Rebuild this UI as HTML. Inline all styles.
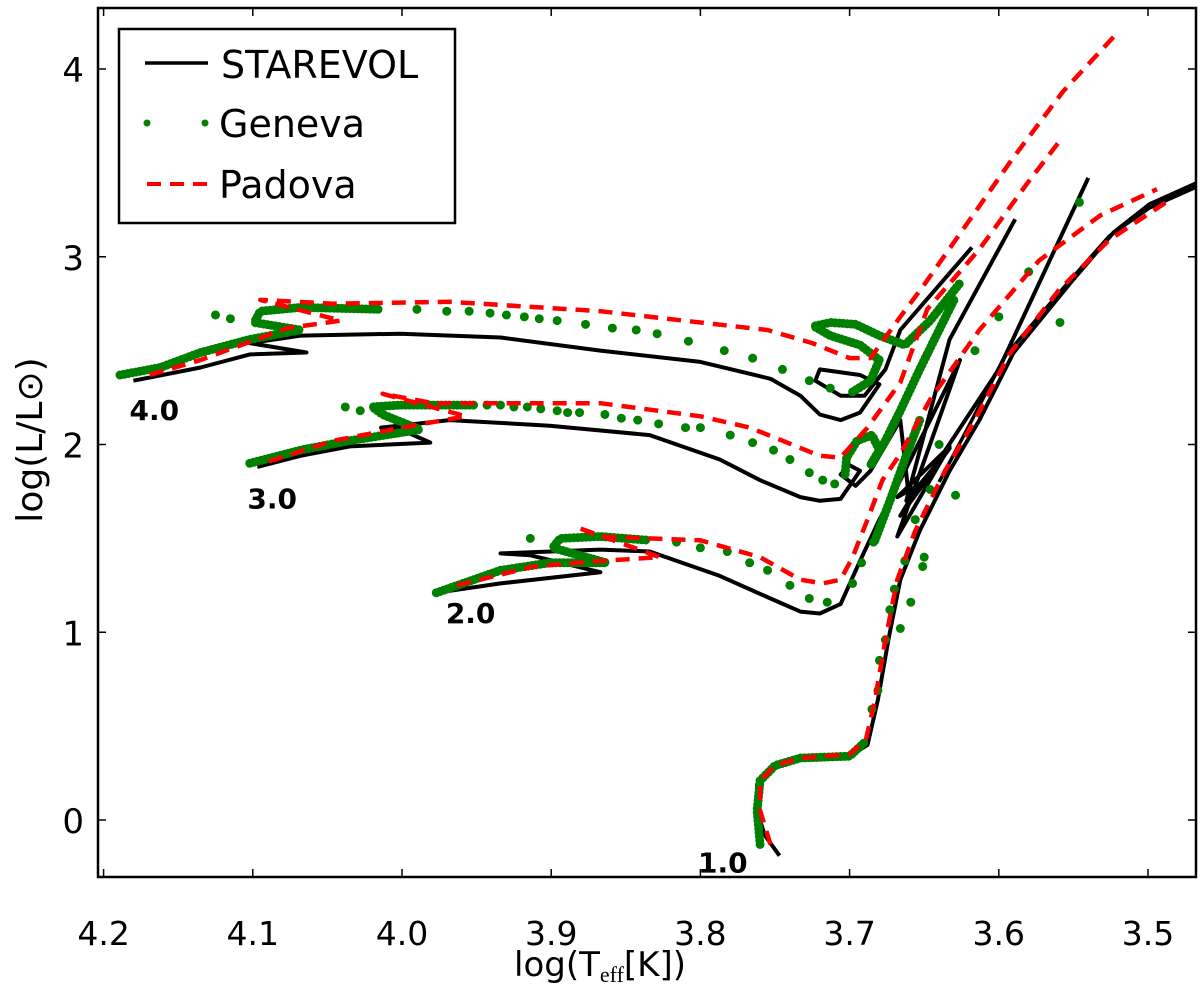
<!DOCTYPE html>
<html><head><meta charset="utf-8"><style>
html,body{margin:0;padding:0;background:#fff;}
svg{display:block;font-family:"DejaVu Sans","Liberation Sans",sans-serif;}
</style></head><body>
<svg id="chart" width="1200" height="985" viewBox="0 0 1200 985" xmlns="http://www.w3.org/2000/svg">
<rect x="0" y="0" width="1200" height="985" fill="#fff"/>
<g id="plot"></g>
<g id="axes"></g>
<text x="600" y="976" text-anchor="middle" font-size="34" fill="#000">log(T<tspan font-family="Liberation Serif" font-size="22" dy="6">eff</tspan><tspan dy="-6">[K])</tspan></text>
<text transform="translate(42,440) rotate(-90)" text-anchor="middle" font-size="36" fill="#000">log(L/L⊙)</text>
<g>
<rect x="119" y="29" width="336" height="194" fill="#fff" stroke="#000" stroke-width="2.5"/>
<line x1="145" y1="63" x2="208" y2="63" stroke="#000" stroke-width="3.5"/>
<text x="221" y="78" font-size="38">STAREVOL</text>
<circle cx="147" cy="123" r="3.5" fill="#008000"/>
<circle cx="205" cy="123" r="3.5" fill="#008000"/>
<text x="219" y="137" font-size="38">Geneva</text>
<line x1="147" y1="184" x2="208" y2="184" stroke="#f00" stroke-width="4" stroke-dasharray="14 9"/>
<text x="219" y="198" font-size="38">Padova</text>
</g>
</svg>
<script>
// axis ticks
const xTicks = [4.2, 4.1, 4.0, 3.9, 3.8, 3.7, 3.6, 3.5];
const xTickLabels = ["4.2","4.1","4.0","3.9","3.8","3.7","3.6","3.5"];
const yTicks = [0, 1, 2, 3, 4];
const yTickLabels = ["0","1","2","3","4"];
const massLabels = ["4.0","3.0","2.0","1.0"];
const massLabelT = [4.166, 4.087, 3.954, 3.785];
const massLabelL = [2.13, 1.66, 1.05, -0.28];

// STAREVOL tracks [logT, logL]
const starevolM4 = [[4.180,2.34],[4.135,2.41],[4.102,2.48],[4.064,2.49],[4.102,2.54],[4.068,2.58],[4.001,2.59],[3.934,2.57],[3.867,2.50],[3.800,2.44],[3.753,2.35],[3.733,2.26],[3.720,2.16],[3.706,2.13],[3.693,2.17],[3.680,2.32],[3.693,2.37],[3.720,2.40],[3.723,2.34],[3.706,2.26],[3.690,2.26],[3.676,2.40],[3.666,2.61],[3.618,3.05]];
const starevolM3 = [[4.097,1.88],[4.068,1.94],[4.035,1.99],[3.981,2.01],[4.001,2.08],[4.014,2.09],[3.968,2.13],[3.901,2.10],[3.834,2.05],[3.787,1.92],[3.760,1.81],[3.733,1.72],[3.720,1.70],[3.706,1.71],[3.693,1.86],[3.700,1.89],[3.706,1.84],[3.696,1.78],[3.686,1.86],[3.666,2.13],[3.660,1.70],[3.666,1.62],[3.633,1.98],[3.662,1.70],[3.633,2.56],[3.589,3.20]];
const starevolM2 = [[3.977,1.21],[3.934,1.26],[3.867,1.32],[3.914,1.41],[3.934,1.42],[3.867,1.44],[3.834,1.43],[3.787,1.30],[3.753,1.18],[3.733,1.11],[3.720,1.10],[3.706,1.15],[3.693,1.38],[3.680,1.60],[3.666,1.81],[3.646,2.13],[3.626,2.45],[3.668,1.51],[3.633,1.99],[3.668,1.72],[3.650,1.80],[3.600,2.40],[3.540,3.42]];
const starevolM1 = [[3.747,-0.19],[3.757,-0.08],[3.762,0.05],[3.762,0.19],[3.753,0.28],[3.733,0.32],[3.700,0.34],[3.688,0.40],[3.681,0.64],[3.674,0.96],[3.666,1.28],[3.653,1.54],[3.633,1.86],[3.613,2.13],[3.590,2.49],[3.552,2.86],[3.523,3.13],[3.499,3.28],[3.468,3.39]];
const starevolM1b = [[3.640,1.80],[3.620,2.10],[3.596,2.47],[3.556,2.84],[3.526,3.11],[3.499,3.26],[3.468,3.37]];

// Padova tracks
const padovaM4 = [[4.169,2.37],[4.135,2.45],[4.077,2.62],[4.041,2.66],[4.095,2.77],[4.046,2.75],[3.968,2.76],[3.867,2.71],[3.800,2.65],[3.755,2.61],[3.725,2.54],[3.700,2.46],[3.686,2.46],[3.666,2.68],[3.651,2.84],[3.621,3.18],[3.591,3.52],[3.557,3.88],[3.522,4.18]];
const padovaM3 = [[4.089,1.91],[4.046,2.02],[3.993,2.10],[3.957,2.15],[4.013,2.27],[3.979,2.22],[3.867,2.22],[3.800,2.15],[3.767,2.09],[3.745,2.02],[3.720,1.94],[3.706,1.93],[3.688,2.09],[3.666,2.33],[3.648,2.72],[3.613,3.04],[3.581,3.39],[3.557,3.64]];
const padovaM2 = [[3.963,1.25],[3.912,1.35],[3.867,1.38],[3.827,1.40],[3.883,1.56],[3.867,1.51],[3.800,1.49],[3.760,1.40],[3.733,1.28],[3.718,1.26],[3.706,1.28],[3.698,1.40],[3.688,1.60],[3.678,1.81],[3.666,1.95],[3.646,2.24],[3.613,2.61],[3.573,2.98],[3.532,3.22],[3.494,3.36]];
const padovaM1 = [[3.753,-0.13],[3.760,0.05],[3.760,0.21],[3.750,0.29],[3.733,0.33],[3.700,0.35],[3.689,0.43],[3.683,0.64],[3.676,0.96],[3.668,1.28],[3.656,1.54],[3.636,1.86],[3.616,2.13],[3.593,2.48],[3.560,2.82],[3.526,3.09],[3.484,3.31]];

// Geneva dense segments
const genevaDenseM4 = [[4.189,2.37],[4.162,2.41],[4.135,2.49],[4.102,2.56],[4.082,2.59],[4.068,2.61],[4.099,2.65],[4.095,2.71],[4.068,2.73],[4.015,2.72]];
const genevaDenseM4b = [[3.698,2.28],[3.686,2.34],[3.680,2.45],[3.693,2.53],[3.713,2.58],[3.724,2.63],[3.713,2.65],[3.696,2.64],[3.680,2.58],[3.663,2.53],[3.646,2.66],[3.626,2.86]];
const genevaDenseM3 = [[4.102,1.90],[4.068,1.97],[4.035,2.02],[3.988,2.08],[4.013,2.16],[4.020,2.20],[4.001,2.21],[3.950,2.21]];
const genevaDenseM3b = [[3.703,1.84],[3.702,1.93],[3.695,2.02],[3.685,2.05],[3.680,1.97],[3.686,1.89],[3.676,2.02],[3.666,2.18],[3.653,2.40],[3.640,2.61],[3.630,2.77]];
const genevaDenseM2 = [[3.977,1.21],[3.934,1.33],[3.901,1.37],[3.863,1.37],[3.899,1.45],[3.894,1.50],[3.867,1.51],[3.834,1.49]];
const genevaDenseM2b = [[3.683,1.49],[3.673,1.70],[3.663,1.92],[3.653,2.13]];
const genevaDenseM1 = [[3.760,-0.13],[3.762,0.05],[3.760,0.21],[3.750,0.29],[3.733,0.33],[3.700,0.34],[3.689,0.42]];
// Geneva sparse points
const genevaSparseT = [4.125,4.115,3.990,3.970,3.955,3.941,3.930,3.918,3.908,3.896,3.877,3.859,3.843,3.829,3.808,3.784,3.765,3.745,3.727,3.713,
 4.038,4.028,3.943,3.934,3.925,3.916,3.907,3.896,3.889,3.881,3.864,3.853,3.842,3.828,3.810,3.800,3.780,3.765,3.751,3.740,3.727,3.718,3.710,
 3.914,3.816,3.800,3.782,3.767,3.755,3.740,3.727,3.715,3.698,3.692,3.684,
 3.685,3.681,3.680,3.676,3.673,3.670,3.663,3.646,3.650,3.651,3.659,3.666,3.546,3.580,3.600,3.559,3.616,3.629,3.640,3.656];
const genevaSparseL = [2.69,2.67,2.72,2.71,2.71,2.70,2.69,2.68,2.67,2.66,2.64,2.62,2.61,2.59,2.55,2.50,2.46,2.40,2.34,2.30,
 2.20,2.18,2.21,2.21,2.20,2.20,2.19,2.18,2.17,2.17,2.16,2.14,2.13,2.11,2.09,2.09,2.05,2.01,1.97,1.92,1.85,1.81,1.79,
 1.50,1.48,1.45,1.43,1.37,1.33,1.25,1.18,1.16,1.26,1.37,1.48,
 0.59,0.69,0.85,0.96,1.12,1.23,1.38,1.76,1.40,1.35,1.16,1.02,3.29,2.92,2.68,2.65,2.50,1.73,2.00,1.60];

const X0=103.6, PXT=1492, Y0=820, PYL=187.75;
function sx(t){return X0+(4.2-t)*PXT;}
function sy(l){return Y0-l*PYL;}
const NS="http://www.w3.org/2000/svg";
const plot=document.getElementById('plot');
const axes=document.getElementById('axes');
const clip=document.createElementNS(NS,'clipPath');clip.setAttribute('id','pc');
const cr=document.createElementNS(NS,'rect');cr.setAttribute('x',98);cr.setAttribute('y',8);cr.setAttribute('width',1098);cr.setAttribute('height',869);
clip.appendChild(cr);document.getElementById('chart').appendChild(clip);
plot.setAttribute('clip-path','url(#pc)');
function pts(a){return a.map(p=>sx(p[0]).toFixed(1)+','+sy(p[1]).toFixed(1)).join(' ');}
function line(a,name,stroke,w,dash,cap){
 const el=document.createElementNS(NS,'polyline');
 
 
 el.setAttribute('points',pts(a));el.setAttribute('fill','none');el.setAttribute('stroke',stroke);
 el.setAttribute('stroke-width',w);el.setAttribute('stroke-linejoin','round');
 if(dash)el.setAttribute('stroke-dasharray',dash);
 el.setAttribute('stroke-linecap',cap||'butt');
 plot.appendChild(el);
}
line(starevolM4,'starevol-track-4msun','#000',4);
line(starevolM3,'starevol-track-3msun','#000',4);
line(starevolM2,'starevol-track-2msun','#000',4);
line(starevolM1,'starevol-track-1msun','#000',4);
line(starevolM1b,'starevol-track-2msun-agb','#000',3.5);
[genevaDenseM4,genevaDenseM4b,genevaDenseM3,genevaDenseM3b,genevaDenseM2,genevaDenseM2b,genevaDenseM1].forEach(a=>line(a,'geneva-track','#008000',9,'0 4','round'));
for(let i=0;i<genevaSparseT.length;i++){
 const c=document.createElementNS(NS,'circle');
 
 
 c.setAttribute('cx',sx(genevaSparseT[i]));c.setAttribute('cy',sy(genevaSparseL[i]));c.setAttribute('r',4.5);c.setAttribute('fill','#008000');
 plot.appendChild(c);
}
line(padovaM4,'padova-track-4msun','#f00',4.5,'14 9');
line(padovaM3,'padova-track-3msun','#f00',4.5,'14 9');
line(padovaM2,'padova-track-2msun','#f00',4.5,'14 9');
line(padovaM1,'padova-track-1msun','#f00',4.5,'14 9');
for(let i=0;i<massLabels.length;i++){
 const t=document.createElementNS(NS,'text');
 
 
 t.setAttribute('x',sx(massLabelT[i]));t.setAttribute('y',sy(massLabelL[i]));t.setAttribute('font-size','28');t.setAttribute('font-weight','bold');t.setAttribute('text-anchor','middle');
 t.textContent=massLabels[i];axes.appendChild(t);
}
// frame
const fr=document.createElementNS(NS,'rect');


fr.setAttribute('x',98);fr.setAttribute('y',8);fr.setAttribute('width',1098);fr.setAttribute('height',869);fr.setAttribute('fill','none');fr.setAttribute('stroke','#000');fr.setAttribute('stroke-width','2.5');
axes.appendChild(fr);
function tk(x1,y1,x2,y2){const l=document.createElementNS(NS,'line');
 
 
 l.setAttribute('x1',x1);l.setAttribute('y1',y1);l.setAttribute('x2',x2);l.setAttribute('y2',y2);l.setAttribute('stroke','#000');l.setAttribute('stroke-width','1.5');axes.appendChild(l);}
xTicks.forEach((v,i)=>{const x=sx(v);tk(x,877,x,869);tk(x,8,x,16);
 const t=document.createElementNS(NS,'text');
 
 
 t.setAttribute('x',x);t.setAttribute('y',945);t.setAttribute('font-size','33');t.setAttribute('text-anchor','middle');t.textContent=xTickLabels[i];axes.appendChild(t);});
yTicks.forEach((v,i)=>{const y=sy(v);tk(98,y,106,y);tk(1196,y,1188,y);
 const t=document.createElementNS(NS,'text');
 
 
 t.setAttribute('x',84);t.setAttribute('y',y+13);t.setAttribute('font-size','34');t.setAttribute('text-anchor','end');t.textContent=yTickLabels[i];axes.appendChild(t);});
</script>
</body></html>
